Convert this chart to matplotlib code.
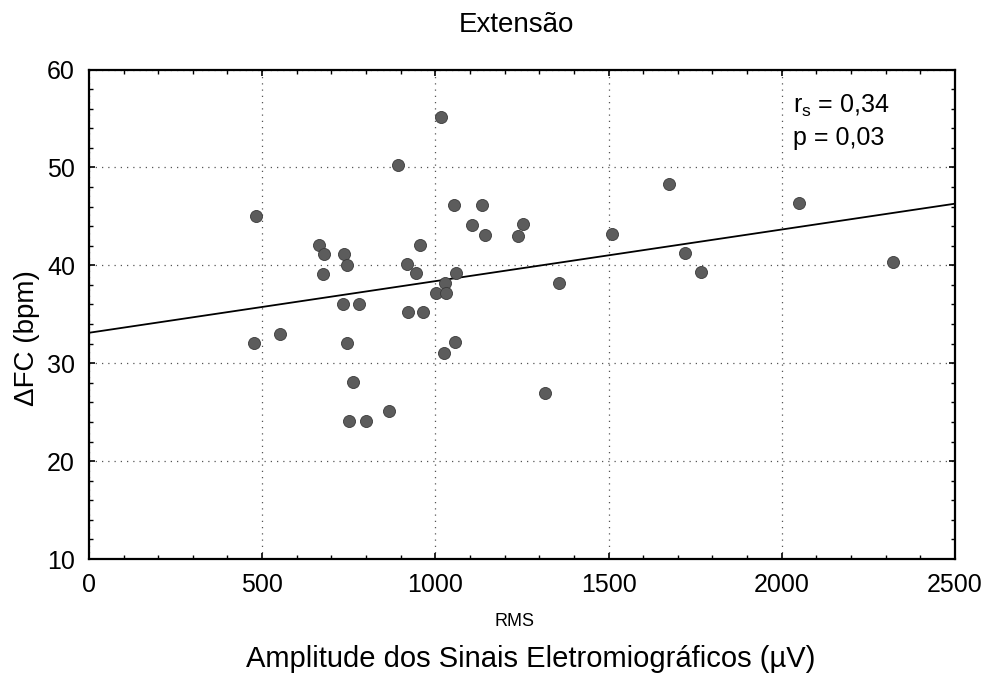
import numpy as np
from matplotlib import pyplot as plt
from matplotlib.ticker import MultipleLocator

# RMS amplitude (uV) and heart rate change (bpm)
rms = [482, 476, 553, 664, 678, 675, 736, 744, 732, 779,
       744, 761, 751, 799, 866, 892, 919, 944, 957, 922,
       963, 1016, 1003, 1028, 1032, 1025, 1054, 1059, 1057, 1107,
       1136, 1143, 1240, 1252, 1316, 1356, 1511, 1674, 1722, 1766,
       2050, 2322]
dfc = [45.0, 32.1, 33.0, 42.1, 41.2, 39.1, 41.2, 40.0, 36.0, 36.0,
       32.1, 28.1, 24.1, 24.1, 25.1, 50.2, 40.1, 39.2, 42.1, 35.2,
       35.2, 55.2, 37.2, 38.2, 37.2, 31.0, 46.2, 39.2, 32.2, 44.1,
       46.2, 43.1, 43.0, 44.2, 27.0, 38.2, 43.2, 48.3, 41.3, 39.3,
       46.4, 40.3]

x_ticks = [0, 500, 1000, 1500, 2000, 2500]
y_ticks = [10, 20, 30, 40, 50, 60]

plt.rcParams['font.family'] = ['Liberation Sans', 'DejaVu Sans']
plt.rcParams['mathtext.default'] = 'regular'

fig = plt.figure(figsize=(9.88, 6.79), dpi=100)
ax = fig.add_axes([0.090, 0.1767, 0.8766, 0.7209])

# regression line over the whole x range
slope, intercept = np.polyfit(rms, dfc, 1)
xl = np.array([x_ticks[0], x_ticks[-1]])
ax.plot(xl, intercept + slope * xl, color='black', lw=1.3, zorder=2)

ax.scatter(rms, dfc, s=75, color='#5c5c5c', edgecolor='#3a3a3a',
           linewidth=0.6, zorder=3)

ax.set_xlim(x_ticks[0], x_ticks[-1])
ax.set_ylim(y_ticks[0], y_ticks[-1])
ax.set_xticks(x_ticks)
ax.set_yticks(y_ticks)
ax.xaxis.set_minor_locator(MultipleLocator(100))
ax.yaxis.set_minor_locator(MultipleLocator(2))
ax.tick_params(which='both', direction='in', top=True, right=True,
               labelsize=18, pad=10)
ax.tick_params(which='major', length=4, width=1.2)
ax.tick_params(which='minor', length=3, width=1)
ax.grid(True, which='major', linestyle=(0, (1, 4)), color='#555555', lw=0.9)
for sp in ax.spines.values():
    sp.set_linewidth(1.6)

ax.text(0.813, 0.911, 'r$_s$ = 0,34', transform=ax.transAxes,
        fontsize=18, va='baseline')
ax.text(0.813, 0.846, 'p = 0,03', transform=ax.transAxes,
        fontsize=18, va='baseline')

fig.text(0.523, 0.963, 'Extensão', fontsize=20, ha='center', va='center')
fig.text(0.027, 0.502, '\u0394FC (bpm)', fontsize=20, rotation=90,
         ha='center', va='center')
fig.text(0.521, 0.084, 'RMS', fontsize=13, ha='center', va='center')
fig.text(0.537, 0.030, 'Amplitude dos Sinais Eletromiográficos (µV)',
         fontsize=21, ha='center', va='center')

fig.savefig('out.png', dpi=100)
